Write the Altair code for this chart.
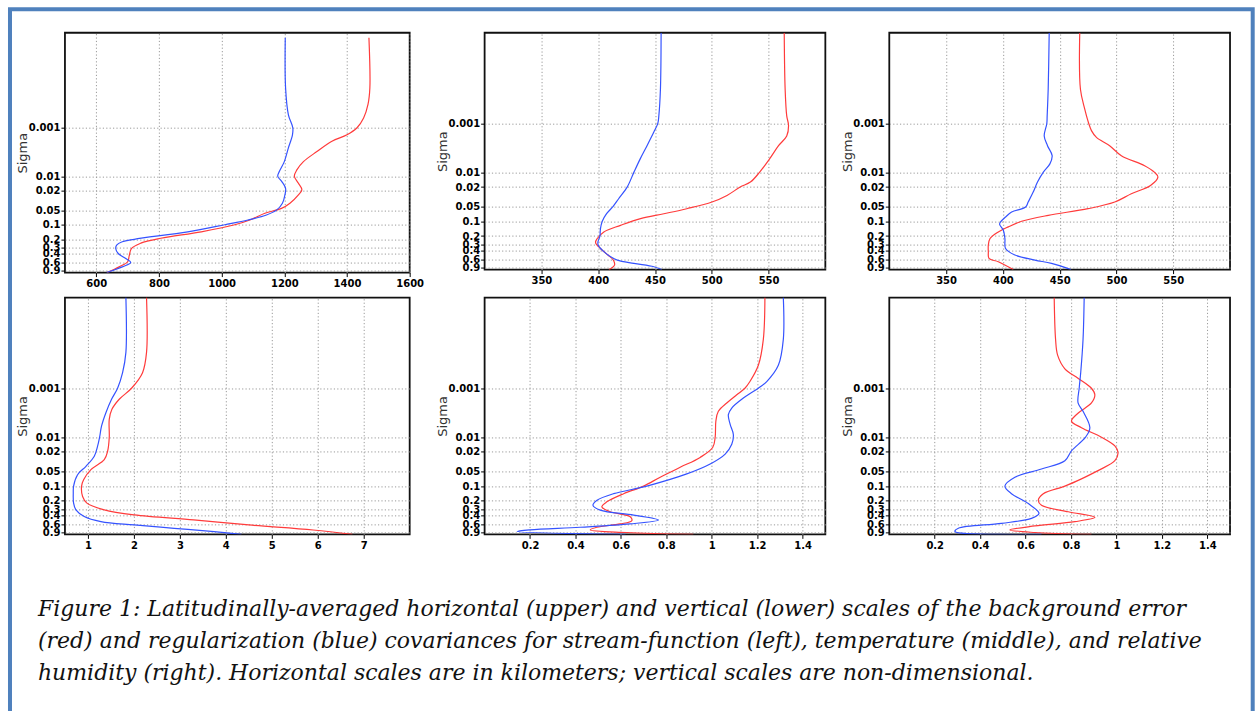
import altair as alt
import pandas as pd

RED = "#ff3b3b"
BLUE = "#3553ff"
SERIES = ["Background error", "Regularization"]

SIGMA_TICKS = [0.001, 0.01, 0.02, 0.05, 0.1, 0.2, 0.3, 0.4, 0.6, 0.9]
Y_DOMAIN = [1.4e-5, 0.97]
Y_DOMAIN_P1 = [1.1e-5, 0.97]

# ---------- Panel 1: stream-function, horizontal scale (km)
p1_red_sigma = [1.4e-5, 1.5e-4, 3.3e-4, 6.3e-4, 1.0e-3, 1.4e-3, 1.9e-3, 3.1e-3, 5.0e-3, 7.4e-3, 0.01,
                0.014, 0.019, 0.0243, 0.036, 0.046, 0.058, 0.080, 0.1, 0.14, 0.19, 0.24, 0.31, 0.44,
                0.58, 0.74, 0.97]
p1_red_val = [1470, 1473, 1467, 1453, 1432, 1400, 1352, 1304, 1261, 1240, 1232, 1245, 1256, 1245,
              1218, 1191, 1138, 1090, 1042, 935, 806, 742, 712, 705, 700, 673, 635]
p1_blue_sigma = [1.4e-5, 1.5e-4, 5.4e-4, 1e-3, 1.4e-3, 2.6e-3, 5.0e-3, 8.0e-3, 0.01, 0.0129, 0.0177,
                 0.0243, 0.036, 0.050, 0.063, 0.080, 0.1, 0.14, 0.2, 0.225, 0.264, 0.309, 0.392,
                 0.497, 0.60, 0.74, 0.97]
p1_blue_val = [1203, 1204, 1213, 1227, 1226, 1213, 1200, 1184, 1179, 1192, 1204, 1202, 1194, 1175,
               1143, 1084, 1010, 892, 721, 683, 665, 662, 670, 694, 710, 683, 633]
p1_xticks = [600, 800, 1000, 1200, 1400, 1600]

# ---------- Panel 2: temperature, horizontal scale (km)
p2_red_sigma = [1.4e-5, 2e-4, 7e-4, 1.1e-3, 1.8e-3, 2.85e-3, 5.3e-3, 0.01, 0.0158, 0.02, 0.0296,
                0.0404, 0.0553, 0.07, 0.088, 0.121, 0.165, 0.225, 0.272, 0.36, 0.49, 0.62, 0.785, 0.97]
p2_red_val = [563.8, 564.6, 566, 567.6, 566, 558.8, 550.9, 542, 534, 525, 513.4, 500.2, 478, 457.8,
              437.3, 419.7, 405, 399.2, 397.7, 402, 408.6, 413.3, 414.4, 409.4]
p2_blue_sigma = [1.4e-5, 2e-4, 7e-4, 1e-3, 1.5e-3, 2.85e-3, 5.3e-3, 0.01, 0.02, 0.0346, 0.05, 0.07,
                 0.1, 0.141, 0.202, 0.263, 0.308, 0.407, 0.531, 0.621, 0.726, 0.849, 0.97]
p2_blue_val = [455.4, 454.8, 453.4, 452.5, 449, 443, 437, 431.4, 425.5, 418, 413, 407.4, 403.6, 402,
               401.5, 399.8, 400, 404.5, 411, 416.8, 431.4, 449, 456]
p2_xticks = [350, 400, 450, 500, 550]

# ---------- Panel 3: relative humidity, horizontal scale (km)
p3_red_sigma = [1.4e-5, 2e-4, 5.1e-4, 1e-3, 1.4e-3, 1.93e-3, 2.85e-3, 4.55e-3, 7.3e-3, 0.01, 0.0125,
                0.0185, 0.0274, 0.0404, 0.0553, 0.0755, 0.1, 0.13, 0.165, 0.225, 0.308, 0.421, 0.574,
                0.671, 0.97]
p3_red_val = [467.7, 468.3, 472.1, 475.6, 478, 482.4, 494, 504.3, 524.8, 533.6, 536.5, 530, 513.1,
              498.5, 475, 440, 416.5, 404.8, 396, 388.7, 387.2, 387.2, 387.8, 396, 409.2]
p3_blue_sigma = [1.4e-5, 2e-4, 7e-4, 1e-3, 1.8e-3, 2.85e-3, 4.55e-3, 6.7e-3, 0.01, 0.0158, 0.0253,
                 0.0404, 0.0511, 0.0646, 0.0817, 0.103, 0.115, 0.152, 0.225, 0.36, 0.49, 0.62, 0.726,
                 0.97]
p3_blue_val = [440.8, 439.9, 439, 438.7, 436.4, 439.3, 443.4, 441.4, 435.5, 430.5, 426.7, 422.3, 420,
               407.7, 402.4, 398, 397.1, 400.4, 401.8, 402.4, 410.6, 428.2, 442.8, 460]
p3_xticks = [350, 400, 450, 500, 550]

# ---------- Panel 4: stream-function, vertical scale
p4_red_sigma = [1.4e-5, 1.85e-4, 4.8e-4, 1e-3, 1.68e-3, 2.7e-3, 4.34e-3, 0.01, 0.0194, 0.0288,
                0.0461, 0.0741, 0.1, 0.163, 0.223, 0.306, 0.388, 0.492, 0.623, 0.789, 0.97]
p4_red_val = [2.275, 2.275, 2.188, 1.949, 1.681, 1.522, 1.464, 1.464, 1.428, 1.355, 1.065, 0.906,
              0.862, 0.884, 0.978, 1.355, 2.007, 3.3, 4.5, 5.9, 6.754]
p4_blue_sigma = [1.4e-5, 1.85e-4, 4.8e-4, 1e-3, 1.68e-3, 3.16e-3, 5.9e-3, 0.01, 0.0153, 0.0245,
                 0.0394, 0.0585, 0.1, 0.139, 0.223, 0.306, 0.419, 0.532, 0.623, 0.729, 0.855, 0.97]
p4_blue_val = [1.826, 1.826, 1.754, 1.645, 1.514, 1.391, 1.297, 1.254, 1.21, 1.138, 0.957, 0.775,
               0.688, 0.681, 0.688, 0.739, 0.92, 1.283, 2.007, 2.877, 3.746, 4.34]
p4_xticks = [1, 2, 3, 4, 5, 6, 7]

# ---------- Panel 5: temperature, vertical scale
p5_red_sigma = [1.4e-5, 1e-4, 3.4e-4, 7.3e-4, 1e-3, 1.36e-3, 2e-3, 2.96e-3, 4.7e-3, 0.01, 0.0163,
                0.0259, 0.0413, 0.0658, 0.1, 0.143, 0.21, 0.266, 0.335, 0.423, 0.509, 0.594, 0.695,
                0.787, 0.889, 0.97]
p5_red_val = [1.234, 1.227, 1.205, 1.168, 1.146, 1.110, 1.066, 1.029, 1.018, 1.015, 1.004, 0.949,
              0.861, 0.773, 0.700, 0.612, 0.538, 0.516, 0.553, 0.641, 0.648, 0.597, 0.494, 0.465,
              0.626, 0.919]
p5_blue_sigma = [1.4e-5, 1e-4, 3.4e-4, 7.3e-4, 1e-3, 1.59e-3, 2.54e-3, 3.46e-3, 5.5e-3, 8.8e-3, 0.014,
                 0.0222, 0.0354, 0.0564, 0.1, 0.143, 0.195, 0.246, 0.31, 0.392, 0.494, 0.594, 0.695,
                 0.787, 0.849, 0.97]
p5_blue_val = [1.315, 1.315, 1.293, 1.242, 1.205, 1.139, 1.088, 1.073, 1.081, 1.095, 1.088, 1.059,
               0.993, 0.890, 0.714, 0.568, 0.495, 0.477, 0.509, 0.656, 0.765, 0.64, 0.42, 0.20,
               0.143, 0.62]
p5_xticks = [0.2, 0.4, 0.6, 0.8, 1.0, 1.2, 1.4]

# ---------- Panel 6: relative humidity, vertical scale
p6_red_sigma = [1.4e-5, 1e-4, 2.1e-4, 4e-4, 6.3e-4, 1e-3, 1.36e-3, 2e-3, 3.2e-3, 4.7e-3, 6.4e-3, 0.01,
                0.0151, 0.0206, 0.0303, 0.0483, 0.0711, 0.1, 0.143, 0.195, 0.246, 0.335, 0.436, 0.534,
                0.653, 0.787, 0.889, 0.97]
p6_red_val = [0.726, 0.732, 0.741, 0.773, 0.832, 0.890, 0.905, 0.890, 0.832, 0.802, 0.846, 0.934,
              0.993, 1.007, 0.993, 0.919, 0.846, 0.773, 0.678, 0.656, 0.670, 0.788, 0.905, 0.817,
              0.641, 0.531, 0.641, 0.890]
p6_blue_sigma = [1.4e-5, 1e-4, 4.6e-4, 1e-3, 2e-3, 2.96e-3, 6.4e-3, 0.01, 0.019, 0.0303, 0.0447,
                 0.0658, 0.1, 0.143, 0.228, 0.362, 0.457, 0.577, 0.728, 0.849, 0.97]
p6_blue_val = [0.858, 0.853, 0.843, 0.836, 0.831, 0.853, 0.883, 0.864, 0.802, 0.773, 0.670, 0.553,
               0.509, 0.538, 0.612, 0.659, 0.626, 0.494, 0.304, 0.289, 0.670]
p6_xticks = [0.2, 0.4, 0.6, 0.8, 1.0, 1.2, 1.4]

CAPTION = [
    "Figure 1: Latitudinally-averaged horizontal (upper) and vertical (lower) scales of the background error",
    "(red) and regularization (blue) covariances for stream-function (left), temperature (middle), and relative",
    "humidity (right). Horizontal scales are in kilometers; vertical scales are non-dimensional.",
]


def profile_df(sig_r, val_r, sig_b, val_b):
    rows = []
    for i, (s, v) in enumerate(zip(sig_r, val_r)):
        rows.append({"sigma": s, "value": v, "series": SERIES[0], "idx": i})
    for i, (s, v) in enumerate(zip(sig_b, val_b)):
        rows.append({"sigma": s, "value": v, "series": SERIES[1], "idx": i})
    return pd.DataFrame(rows)


def panel(df, xdom, xticks, width, height, ydom=Y_DOMAIN, extra=()):
    lines = alt.Chart(df).mark_line(strokeWidth=1.2, interpolate="catmull-rom", clip=True).encode(
        x=alt.X("value:Q",
                scale=alt.Scale(domain=xdom, nice=False, zero=False),
                axis=alt.Axis(values=xticks, title=None, labelFlush=False, labelOverlap=False,
                              labelExpr="format(datum.value, '~r')", labelPadding=2)),
        y=alt.Y("sigma:Q",
                scale=alt.Scale(type="log", domain=ydom, reverse=True, nice=False),
                axis=alt.Axis(values=SIGMA_TICKS, labelExpr="format(datum.value, '~r')",
                              title="Sigma", labelOverlap=False,
                              labelFlush=False, labelPadding=1, titleX=-42,
                              titleBaseline="middle")),
        color=alt.Color("series:N", scale=alt.Scale(domain=SERIES, range=[RED, BLUE]), legend=None),
        order=alt.Order("idx:Q"),
    )
    layers = list(extra) + [lines]
    return alt.layer(*layers).properties(width=width, height=height)


def spacer(w):
    return alt.Chart(pd.DataFrame({"s": [0]})).mark_point(opacity=0).encode(
        x=alt.value(0), y=alt.value(0)
    ).properties(width=w, height=10, view=alt.ViewBackground(strokeOpacity=0))


frame = alt.Chart(pd.DataFrame({"f": [0]})).mark_rect(
    filled=False, stroke="#4f81bd", strokeWidth=4, clip=False
).encode(x=alt.value(-55), x2=alt.value(1188.7), y=alt.value(-23.5), y2=alt.value(681))

caption = alt.Chart(pd.DataFrame({"caption": ["\n".join(CAPTION)]})).mark_text(
    align="left", baseline="alphabetic", font="DejaVu Serif", fontStyle="italic",
    fontSize=22, lineHeight=31.7, lineBreak="\n", color="#111111", clip=False
).encode(x=alt.value(-27), y=alt.value(319), text="caption:N")

p1 = panel(profile_df(p1_red_sigma, p1_red_val, p1_blue_sigma, p1_blue_val), [500, 1600], p1_xticks,
           345, 240, ydom=Y_DOMAIN_P1, extra=[frame])
p2 = panel(profile_df(p2_red_sigma, p2_red_val, p2_blue_sigma, p2_blue_val), [300, 600], p2_xticks, 341, 237)
p3 = panel(profile_df(p3_red_sigma, p3_red_val, p3_blue_sigma, p3_blue_val), [300, 600], p3_xticks, 341, 237)
p4 = panel(profile_df(p4_red_sigma, p4_red_val, p4_blue_sigma, p4_blue_val), [0.5, 8], p4_xticks,
           345, 237, extra=[caption])
p5 = panel(profile_df(p5_red_sigma, p5_red_val, p5_blue_sigma, p5_blue_val), [0, 1.5], p5_xticks, 341, 237)
p6 = panel(profile_df(p6_red_sigma, p6_red_val, p6_blue_sigma, p6_blue_val), [0, 1.5], p6_xticks, 341, 237)

chart = alt.concat(
    p1, spacer(75), p2, spacer(64), p3,
    p4, spacer(75), p5, spacer(64), p6,
    columns=5, spacing={"row": 25, "column": 0}, bounds="flush",
).properties(
    padding={"left": 7, "top": 5.5, "right": 0, "bottom": 0},
    background="white",
).configure_view(
    stroke="#111111", strokeWidth=1.8,
).configure_axis(
    labelFont="DejaVu Sans", labelFontSize=10, labelFontWeight="bold", labelColor="#000000",
    titleFont="DejaVu Sans", titleFontSize=13, titleFontWeight="normal", titleColor="#333333",
    tickColor="#000000", tickSize=4, tickWidth=1, domain=False,
    gridColor="#9a9a9a", gridDash=[1.2, 2.2], gridWidth=1,
)

chart.save("out.html", embed_options={"renderer": "svg", "actions": False})
